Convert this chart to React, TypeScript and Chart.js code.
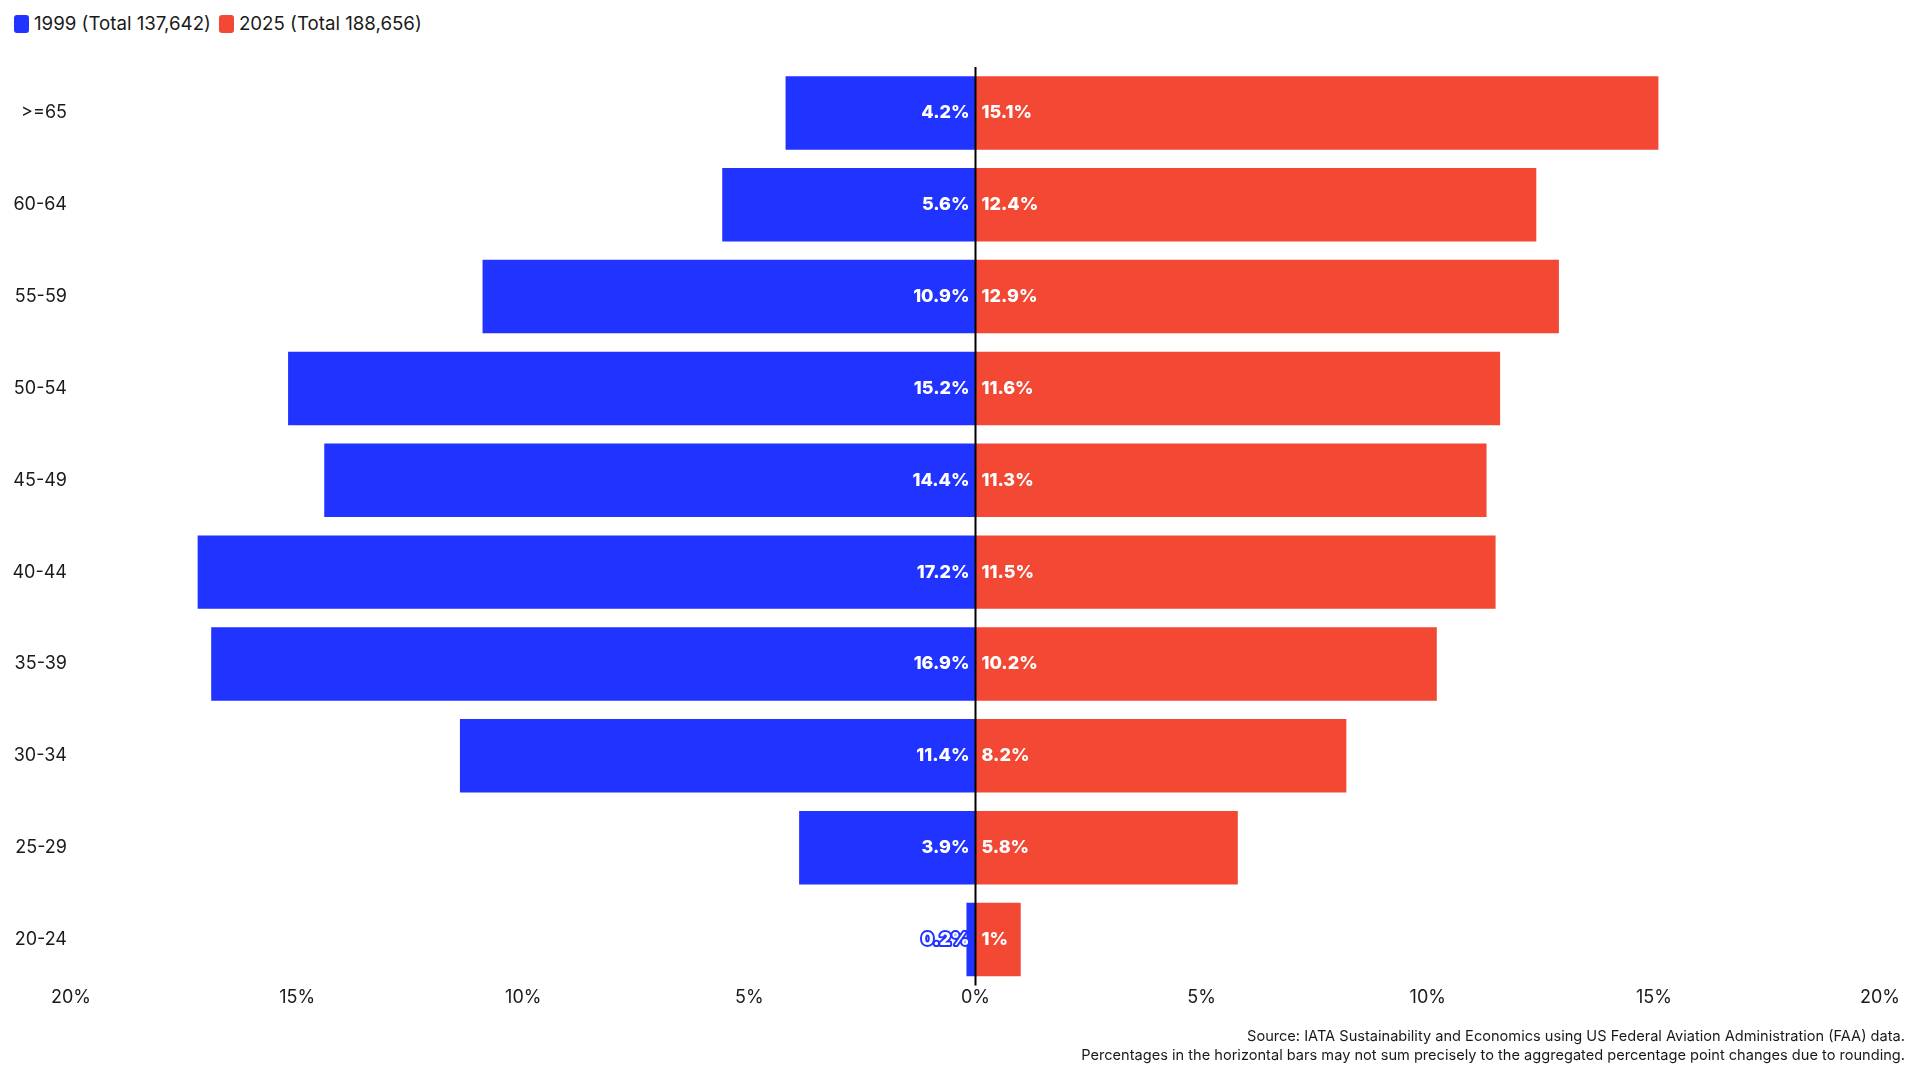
import React, { useEffect, useRef } from 'react';
import { Chart, registerables, Plugin } from 'chart.js';

Chart.register(...registerables);

const ageGroups = ['>=65', '60-64', '55-59', '50-54', '45-49', '40-44', '35-39', '30-34', '25-29', '20-24'];
const share1999 = [4.2, 5.6, 10.9, 15.2, 14.4, 17.2, 16.9, 11.4, 3.9, 0.2];
const share2025 = [15.1, 12.4, 12.9, 11.6, 11.3, 11.5, 10.2, 8.2, 5.8, 1];
const seriesLabels = ['1999 (Total 137,642)', '2025 (Total 188,656)'];
const seriesColors = ['#2033FF', '#F24834'];
const sourceLines = [
  'Source: IATA Sustainability and Economics using US Federal Aviation Administration (FAA) data.',
  'Percentages in the horizontal bars may not sum precisely to the aggregated percentage point changes due to rounding.',
];

const textColor = '#1a1a1a';

// zero line on top of the bars + white value labels
const pyramidPlugin: Plugin<'bar'> = {
  id: 'pyramid',
  afterDatasetsDraw(chart) {
    const { ctx, chartArea, scales } = chart;
    const x0 = scales.x.getPixelForValue(0);
    ctx.save();
    ctx.strokeStyle = '#000';
    ctx.lineWidth = 2;
    ctx.beginPath();
    ctx.moveTo(x0, chartArea.top);
    ctx.lineTo(x0, chartArea.bottom);
    ctx.stroke();

    ctx.font = '800 18px Inter';
    ctx.textBaseline = 'middle';
    ctx.lineJoin = 'round';
    chart.data.datasets.forEach((ds, i) => {
      const meta = chart.getDatasetMeta(i);
      meta.data.forEach((bar, j) => {
        const text = `${Math.abs(ds.data[j] as number)}%`;
        const isLeft = i === 0;
        const x = isLeft ? x0 - 6 : x0 + 6;
        ctx.textAlign = isLeft ? 'right' : 'left';
        ctx.strokeStyle = ds.backgroundColor as string;
        ctx.lineWidth = 4;
        ctx.strokeText(text, x, bar.y);
        ctx.fillStyle = '#fff';
        ctx.fillText(text, x, bar.y);
      });
    });
    ctx.restore();
  },
};

const App: React.FC = () => {
  const chartRef = useRef<HTMLCanvasElement>(null);

  useEffect(() => {
    if (!chartRef.current) return;
    Chart.defaults.font.family = 'Inter';
    Chart.defaults.color = textColor;

    const chart = new Chart(chartRef.current, {
      type: 'bar',
      data: {
        labels: ageGroups,
        datasets: [
          {
            label: seriesLabels[0],
            data: share1999.map((v) => -v),
            backgroundColor: seriesColors[0],
            categoryPercentage: 0.8,
            barPercentage: 1,
          },
          {
            label: seriesLabels[1],
            data: share2025,
            backgroundColor: seriesColors[1],
            categoryPercentage: 0.8,
            barPercentage: 1,
          },
        ],
      },
      options: {
        animation: false,
        responsive: true,
        maintainAspectRatio: false,
        indexAxis: 'y',
        layout: { padding: { top: 67, right: 40, bottom: 71, left: 0 } },
        plugins: {
          legend: { display: false },
          tooltip: { enabled: false },
        },
        scales: {
          x: {
            stacked: true,
            min: -20,
            max: 20,
            border: { display: false },
            grid: { display: false, drawTicks: false },
            ticks: {
              stepSize: 5,
              padding: 1,
              font: { size: 18 },
              callback: (value) => `${Math.abs(Number(value))}%`,
            },
          },
          y: {
            stacked: true,
            border: { display: false },
            grid: { display: false, drawTicks: false },
            ticks: { padding: 4, font: { size: 18 } },
            afterFit: (scale) => {
              scale.width = 71;
            },
          },
        },
      },
      plugins: [pyramidPlugin],
    });

    return () => {
      chart.destroy();
    };
  }, []);

  return (
    <div style={{ position: 'fixed', inset: 0, width: 1920, height: 1080, background: '#fff', fontFamily: 'Inter', color: textColor }}>
      <div style={{ position: 'absolute', left: 14, top: 13, display: 'flex', gap: 8, fontSize: 18.7, lineHeight: '22px' }}>
        {seriesLabels.map((label, i) => (
          <div key={label} style={{ display: 'flex', alignItems: 'center', gap: 5 }}>
            <span style={{ display: 'inline-block', width: 15, height: 18, borderRadius: 3, background: seriesColors[i] }} />
            <span>{label}</span>
          </div>
        ))}
      </div>
      <div style={{ position: 'absolute', inset: 0 }}>
        <canvas ref={chartRef} />
      </div>
      <div style={{ position: 'absolute', right: 15, top: 1027, textAlign: 'right', fontSize: 14.6, lineHeight: '19px' }}>
        {sourceLines.map((line) => (
          <div key={line}>{line}</div>
        ))}
      </div>
    </div>
  );
};

export default App;
